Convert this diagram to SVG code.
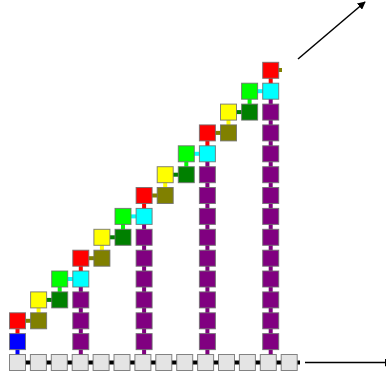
<svg xmlns="http://www.w3.org/2000/svg" width="386" height="377" viewBox="0 0 386 377">
<style>
rect.b{stroke:#6e6e6e;stroke-width:1;stroke-opacity:0.85;width:16px;height:16px}
.g{fill:#e4e4e4}.pu{fill:#800080}.ol{fill:#808000}.dg{fill:#008000}.li{fill:#00ff00}.cy{fill:#00ffff}.re{fill:#ff0000}.bl{fill:#0000ff}.ye{fill:#ffff00}.k{fill:#000}
.v rect,rect.v{width:4px;height:6px}
.h rect,rect.h{width:6px;height:4px}
.ax{stroke:#000;stroke-width:1.5;fill:none}
</style>
<defs>
<marker id="ah" viewBox="0 0 10 10" refX="9" refY="5" markerWidth="8" markerHeight="8" markerUnits="userSpaceOnUse" orient="auto"><path d="M0,0 L10,5 L0,10 z" fill="#000"/></marker>
</defs>
<g id="connectors">
<path class="ax" d="M305,362.5 L392,362.5" marker-end="url(#ah)"/>
<path class="ax" d="M298,59 L365,2" marker-end="url(#ah)"/>
<g class="k h">
<rect x="24.9" y="360.5"/><rect x="45.8" y="360.5"/><rect x="66.7" y="360.5"/><rect x="87.6" y="360.5"/><rect x="108.5" y="360.5"/><rect x="129.4" y="360.5"/><rect x="150.3" y="360.5"/><rect x="171.2" y="360.5"/><rect x="192.1" y="360.5"/><rect x="213" y="360.5"/><rect x="233.9" y="360.5"/><rect x="254.8" y="360.5"/><rect x="275.7" y="360.5"/>
</g>
<rect class="k" x="297" y="360.5" width="3" height="4"/>
<rect class="bl v" x="15.5" y="349.1"/>
<rect class="re v" x="15.5" y="328.3"/>
<rect class="ye v" x="36.6" y="307.4"/>
<rect class="li v" x="57.7" y="286.5"/>
<rect class="re v" x="78.8" y="265.7"/>
<rect class="ye v" x="99.9" y="244.8"/>
<rect class="li v" x="121" y="223.9"/>
<rect class="re v" x="142.1" y="203"/>
<rect class="ye v" x="163.2" y="182.2"/>
<rect class="li v" x="184.3" y="161.3"/>
<rect class="re v" x="205.4" y="140.4"/>
<rect class="ye v" x="226.5" y="119.6"/>
<rect class="li v" x="247.6" y="98.7"/>
<rect class="re v" x="268.7" y="77.8"/>
<g class="pu v">
<rect x="78.8" y="349.1"/><rect x="78.8" y="328.3"/><rect x="78.8" y="307.4"/><rect x="78.8" y="286.5"/>
<rect x="142.1" y="349.1"/><rect x="142.1" y="328.3"/><rect x="142.1" y="307.4"/><rect x="142.1" y="286.5"/><rect x="142.1" y="265.7"/><rect x="142.1" y="244.8"/><rect x="142.1" y="223.9"/>
<rect x="205.4" y="349.1"/><rect x="205.4" y="328.3"/><rect x="205.4" y="307.4"/><rect x="205.4" y="286.5"/><rect x="205.4" y="265.7"/><rect x="205.4" y="244.8"/><rect x="205.4" y="223.9"/><rect x="205.4" y="203"/><rect x="205.4" y="182.2"/><rect x="205.4" y="161.3"/>
<rect x="268.7" y="349.1"/><rect x="268.7" y="328.3"/><rect x="268.7" y="307.4"/><rect x="268.7" y="286.5"/><rect x="268.7" y="265.7"/><rect x="268.7" y="244.8"/><rect x="268.7" y="223.9"/><rect x="268.7" y="203"/><rect x="268.7" y="182.2"/><rect x="268.7" y="161.3"/><rect x="268.7" y="140.4"/><rect x="268.7" y="119.6"/><rect x="268.7" y="98.7"/>
</g>
<rect class="ol h" x="25.1" y="318.8"/>
<rect class="dg h" x="46.2" y="297.9"/>
<rect class="cy h" x="67.3" y="277"/>
<rect class="ol h" x="88.4" y="256.2"/>
<rect class="dg h" x="109.5" y="235.3"/>
<rect class="cy h" x="130.6" y="214.4"/>
<rect class="ol h" x="151.7" y="193.5"/>
<rect class="dg h" x="172.8" y="172.7"/>
<rect class="cy h" x="193.9" y="151.8"/>
<rect class="ol h" x="215" y="130.9"/>
<rect class="dg h" x="236.1" y="110.1"/>
<rect class="cy h" x="257.2" y="89.2"/>
<rect class="ol" x="278" y="68" width="4" height="4"/>
</g>
<g id="row0">
<g id="g0"><rect class="b g" x="9.5" y="354.5"/></g>
<g id="g1"><rect class="b g" x="30.4" y="354.5"/></g>
<g id="g2"><rect class="b g" x="51.3" y="354.5"/></g>
<g id="g3"><rect class="b g" x="72.2" y="354.5"/></g>
<g id="g4"><rect class="b g" x="93.1" y="354.5"/></g>
<g id="g5"><rect class="b g" x="114" y="354.5"/></g>
<g id="g6"><rect class="b g" x="134.9" y="354.5"/></g>
<g id="g7"><rect class="b g" x="155.8" y="354.5"/></g>
<g id="g8"><rect class="b g" x="176.7" y="354.5"/></g>
<g id="g9"><rect class="b g" x="197.6" y="354.5"/></g>
<g id="g10"><rect class="b g" x="218.5" y="354.5"/></g>
<g id="g11"><rect class="b g" x="239.4" y="354.5"/></g>
<g id="g12"><rect class="b g" x="260.3" y="354.5"/></g>
<g id="g13"><rect class="b g" x="281.2" y="354.5"/></g>
</g>
<g id="col0">
<g id="c0r1"><rect class="b bl" x="9.5" y="333.6"/></g>
<g id="c0r2"><rect class="b re" x="9.5" y="312.8"/></g>
</g>
<g id="col1">
<g id="c1r2"><rect class="b ol" x="30.6" y="312.8"/></g>
<g id="c1r3"><rect class="b ye" x="30.6" y="291.9"/></g>
</g>
<g id="col2">
<g id="c2r3"><rect class="b dg" x="51.7" y="291.9"/></g>
<g id="c2r4"><rect class="b li" x="51.7" y="271"/></g>
</g>
<g id="col3">
<g id="c3r1"><rect class="b pu" x="72.8" y="333.6"/></g>
<g id="c3r2"><rect class="b pu" x="72.8" y="312.8"/></g>
<g id="c3r3"><rect class="b pu" x="72.8" y="291.9"/></g>
<g id="c3r4"><rect class="b cy" x="72.8" y="271"/></g>
<g id="c3r5"><rect class="b re" x="72.8" y="250.2"/></g>
</g>
<g id="col4">
<g id="c4r5"><rect class="b ol" x="93.9" y="250.2"/></g>
<g id="c4r6"><rect class="b ye" x="93.9" y="229.3"/></g>
</g>
<g id="col5">
<g id="c5r6"><rect class="b dg" x="115" y="229.3"/></g>
<g id="c5r7"><rect class="b li" x="115" y="208.4"/></g>
</g>
<g id="col6">
<g id="c6r1"><rect class="b pu" x="136.1" y="333.6"/></g>
<g id="c6r2"><rect class="b pu" x="136.1" y="312.8"/></g>
<g id="c6r3"><rect class="b pu" x="136.1" y="291.9"/></g>
<g id="c6r4"><rect class="b pu" x="136.1" y="271"/></g>
<g id="c6r5"><rect class="b pu" x="136.1" y="250.2"/></g>
<g id="c6r6"><rect class="b pu" x="136.1" y="229.3"/></g>
<g id="c6r7"><rect class="b cy" x="136.1" y="208.4"/></g>
<g id="c6r8"><rect class="b re" x="136.1" y="187.5"/></g>
</g>
<g id="col7">
<g id="c7r8"><rect class="b ol" x="157.2" y="187.5"/></g>
<g id="c7r9"><rect class="b ye" x="157.2" y="166.7"/></g>
</g>
<g id="col8">
<g id="c8r9"><rect class="b dg" x="178.3" y="166.7"/></g>
<g id="c8r10"><rect class="b li" x="178.3" y="145.8"/></g>
</g>
<g id="col9">
<g id="c9r1"><rect class="b pu" x="199.4" y="333.6"/></g>
<g id="c9r2"><rect class="b pu" x="199.4" y="312.8"/></g>
<g id="c9r3"><rect class="b pu" x="199.4" y="291.9"/></g>
<g id="c9r4"><rect class="b pu" x="199.4" y="271"/></g>
<g id="c9r5"><rect class="b pu" x="199.4" y="250.2"/></g>
<g id="c9r6"><rect class="b pu" x="199.4" y="229.3"/></g>
<g id="c9r7"><rect class="b pu" x="199.4" y="208.4"/></g>
<g id="c9r8"><rect class="b pu" x="199.4" y="187.5"/></g>
<g id="c9r9"><rect class="b pu" x="199.4" y="166.7"/></g>
<g id="c9r10"><rect class="b cy" x="199.4" y="145.8"/></g>
<g id="c9r11"><rect class="b re" x="199.4" y="124.9"/></g>
</g>
<g id="col10">
<g id="c10r11"><rect class="b ol" x="220.5" y="124.9"/></g>
<g id="c10r12"><rect class="b ye" x="220.5" y="104.1"/></g>
</g>
<g id="col11">
<g id="c11r12"><rect class="b dg" x="241.6" y="104.1"/></g>
<g id="c11r13"><rect class="b li" x="241.6" y="83.2"/></g>
</g>
<g id="col12">
<g id="c12r1"><rect class="b pu" x="262.7" y="333.6"/></g>
<g id="c12r2"><rect class="b pu" x="262.7" y="312.8"/></g>
<g id="c12r3"><rect class="b pu" x="262.7" y="291.9"/></g>
<g id="c12r4"><rect class="b pu" x="262.7" y="271"/></g>
<g id="c12r5"><rect class="b pu" x="262.7" y="250.2"/></g>
<g id="c12r6"><rect class="b pu" x="262.7" y="229.3"/></g>
<g id="c12r7"><rect class="b pu" x="262.7" y="208.4"/></g>
<g id="c12r8"><rect class="b pu" x="262.7" y="187.5"/></g>
<g id="c12r9"><rect class="b pu" x="262.7" y="166.7"/></g>
<g id="c12r10"><rect class="b pu" x="262.7" y="145.8"/></g>
<g id="c12r11"><rect class="b pu" x="262.7" y="124.9"/></g>
<g id="c12r12"><rect class="b pu" x="262.7" y="104.1"/></g>
<g id="c12r13"><rect class="b cy" x="262.7" y="83.2"/></g>
<g id="c12r14"><rect class="b re" x="262.7" y="62.3"/></g>
</g>
</svg>
